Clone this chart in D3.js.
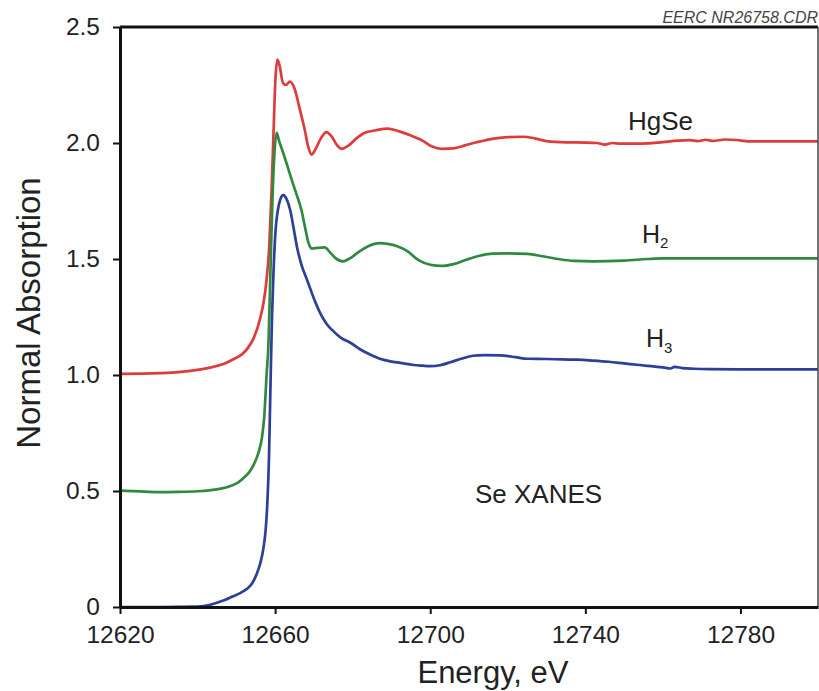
<!DOCTYPE html>
<html>
<head>
<meta charset="utf-8">
<script src="https://cdn.jsdelivr.net/npm/d3@7"></script>
<style>
  html, body { margin: 0; padding: 0; background: #fff; }
  svg { display: block; font-family: "Liberation Sans", Arial, Helvetica, sans-serif; }
</style>
</head>
<body>
<svg id="chart" width="819" height="691"></svg>
<script>
// Se K-edge XANES spectra, normalised absorption vs photon energy (eV).
// HgSe reference is offset by +1.0, H2 by +0.5, H3 unshifted.

const hgseEnergy = [12620, 12630, 12635, 12640, 12644, 12647, 12649.5, 12651.5, 12653, 12654.5,
  12656, 12657, 12657.8, 12658.5, 12659.1, 12659.6, 12660.1, 12660.6, 12661.2, 12662,
  12662.8, 12663.8, 12665, 12666.3, 12667.6, 12668.6, 12669.4, 12670.3, 12671.8, 12673.2,
  12674.5, 12676, 12677.2, 12679, 12681, 12683, 12686, 12689, 12692, 12695,
  12698, 12700.5, 12703, 12706, 12709, 12712, 12716, 12720, 12724, 12727,
  12730, 12735, 12740, 12743, 12745, 12747, 12749, 12753, 12756, 12760,
  12764, 12767, 12769, 12771, 12773, 12776, 12779, 12782, 12790, 12800];
const hgseAbs = [1.005, 1.008, 1.012, 1.022, 1.035, 1.05, 1.07, 1.09, 1.117, 1.16,
  1.235, 1.31, 1.41, 1.56, 1.80, 2.05, 2.28, 2.36, 2.33, 2.26,
  2.25, 2.265, 2.235, 2.15, 2.06, 1.98, 1.95, 1.97, 2.02, 2.047,
  2.03, 1.99, 1.975, 1.99, 2.02, 2.043, 2.055, 2.062, 2.05, 2.032,
  2.01, 1.985, 1.975, 1.977, 1.99, 2.003, 2.018, 2.025, 2.027, 2.02,
  2.008, 2.003, 2.002, 2.0, 1.993, 2.0, 1.997, 1.997, 1.998, 2.004,
  2.01, 2.012, 2.008, 2.014, 2.009, 2.015, 2.013, 2.007, 2.007, 2.007];

const h2Energy = [12620, 12625, 12630, 12635, 12640, 12643, 12646, 12648.5, 12650.5, 12652,
  12653.5, 12654.8, 12655.8, 12656.6, 12657.2, 12657.8, 12658.3, 12658.8, 12659.3, 12659.8,
  12660.4, 12661, 12662, 12663, 12664.3, 12665.5, 12666.8, 12667.8, 12668.6, 12669.5,
  12671, 12672.8, 12674.2, 12675.5, 12677.5, 12679.5, 12681.5, 12684, 12687, 12689,
  12691.5, 12694, 12697, 12700, 12703, 12706, 12709.5, 12713, 12716, 12720,
  12725, 12729, 12733, 12737, 12742, 12750, 12756, 12760, 12770, 12800];
const h2Abs = [0.502, 0.498, 0.495, 0.496, 0.499, 0.503, 0.51, 0.522, 0.537, 0.558,
  0.585, 0.625, 0.67, 0.73, 0.82, 1.0, 1.14, 1.45, 1.75, 1.95,
  2.044, 2.01, 1.962, 1.91, 1.84, 1.78, 1.71, 1.63, 1.57, 1.545,
  1.548, 1.55, 1.528, 1.505, 1.49, 1.505, 1.53, 1.555, 1.568, 1.565,
  1.555, 1.535, 1.495, 1.475, 1.47, 1.478, 1.498, 1.515, 1.523, 1.524,
  1.522, 1.512, 1.5, 1.492, 1.49, 1.493, 1.5, 1.503, 1.503, 1.503];

const h3Energy = [12620, 12630, 12640, 12643, 12645, 12647, 12649, 12651, 12652.7, 12654,
  12655.2, 12656.2, 12657, 12657.6, 12658, 12658.4, 12658.8, 12659.2, 12659.6, 12660.1,
  12660.7, 12661.4, 12662.1, 12662.9, 12663.9, 12664.8, 12665.6, 12666.8, 12668.2, 12670,
  12671.6, 12673.3, 12675, 12677, 12679.4, 12682, 12684.5, 12687, 12689.7, 12692.3,
  12695.7, 12698, 12700, 12702.5, 12705.2, 12708, 12711, 12714, 12718, 12722,
  12725, 12730, 12734, 12738, 12742, 12746, 12750, 12754, 12757, 12760,
  12762, 12763, 12765, 12768, 12772, 12780, 12800];
const h3Abs = [0.0, 0.0, 0.002, 0.008, 0.018, 0.03, 0.045, 0.06, 0.078, 0.1,
  0.14, 0.19, 0.255, 0.34, 0.45, 0.63, 0.95, 1.25, 1.45, 1.62,
  1.71, 1.76, 1.775, 1.76, 1.71, 1.63, 1.555, 1.475, 1.412, 1.33,
  1.268, 1.22, 1.189, 1.16, 1.139, 1.11, 1.088, 1.07, 1.059, 1.052,
  1.043, 1.04, 1.038, 1.042, 1.055, 1.07, 1.083, 1.086, 1.085, 1.077,
  1.07, 1.069, 1.067, 1.066, 1.062, 1.057, 1.05, 1.043, 1.038, 1.033,
  1.028, 1.035, 1.03, 1.027, 1.025, 1.024, 1.024];

const xTicks = [12620, 12660, 12700, 12740, 12780];
const yTicks = [0, 0.5, 1.0, 1.5, 2.0, 2.5];
const yTickLabels = ["0", "0.5", "1.0", "1.5", "2.0", "2.5"];

const series = [
  { name: "HgSe", energy: hgseEnergy, abs: hgseAbs, color: "#de3b3b" },
  { name: "H2", energy: h2Energy, abs: h2Abs, color: "#2f8a3f" },
  { name: "H3", energy: h3Energy, abs: h3Abs, color: "#2d3f98" }
];

const svg = d3.select("#chart");
const plotLeft = 120, plotRight = 818, plotTop = 27, plotBottom = 607;

const x = d3.scaleLinear().domain([12620, 12800]).range([plotLeft, plotRight]);
const y = d3.scaleLinear().domain([0, 2.5]).range([plotBottom, plotTop]);

// spectra
const line = d3.line()
  .x(d => x(d[0]))
  .y(d => y(d[1]))
  .curve(d3.curveMonotoneX);

series.forEach(s => {
  const pts = s.energy.map((e, i) => [e, s.abs[i]]);
  svg.append("path")
    .attr("d", line(pts))
    .attr("fill", "none")
    .attr("stroke", s.color)
    .attr("stroke-width", 2.7)
    .attr("stroke-linejoin", "round");
});

// frame: heavy top edge, thin right edge
svg.append("line")
  .attr("x1", plotLeft).attr("x2", plotRight)
  .attr("y1", plotTop).attr("y2", plotTop)
  .attr("stroke", "#111").attr("stroke-width", 3);
svg.append("line")
  .attr("x1", plotRight).attr("x2", plotRight)
  .attr("y1", plotTop).attr("y2", plotBottom)
  .attr("stroke", "#444").attr("stroke-width", 1.5);

// axes
const xAxis = d3.axisBottom(x)
  .tickValues(xTicks)
  .tickFormat(d3.format("d"))
  .tickSize(7)
  .tickSizeOuter(0)
  .tickPadding(12);

const yAxis = d3.axisLeft(y)
  .tickValues(yTicks)
  .tickFormat((d, i) => yTickLabels[i])
  .tickSize(7)
  .tickSizeOuter(0)
  .tickPadding(13);

const gx = svg.append("g").attr("transform", `translate(0,${plotBottom})`).call(xAxis);
const gy = svg.append("g").attr("transform", `translate(${plotLeft},0)`).call(yAxis);

[gx, gy].forEach(g => {
  g.select(".domain").attr("stroke", "#111").attr("stroke-width", 3);
  g.selectAll(".tick line").attr("stroke", "#111").attr("stroke-width", 2);
  g.selectAll(".tick text")
    .attr("fill", "#222")
    .style("font-size", "24.5px")
    .style("font-family", "\"Liberation Sans\", Arial, sans-serif");
});

// axis titles
svg.append("text")
  .attr("x", 493).attr("y", 683)
  .attr("text-anchor", "middle")
  .attr("fill", "#222")
  .style("font-size", "31px")
  .text("Energy, eV");

svg.append("text")
  .attr("transform", "translate(40,313) rotate(-90)")
  .attr("text-anchor", "middle")
  .attr("fill", "#222")
  .style("font-size", "33px")
  .text("Normal Absorption");

// series labels
svg.append("text")
  .attr("x", 628).attr("y", 130)
  .attr("fill", "#222")
  .style("font-size", "26px")
  .text("HgSe");

const h2Label = svg.append("text")
  .attr("x", 642).attr("y", 243)
  .attr("fill", "#222")
  .style("font-size", "25px");
h2Label.append("tspan").text("H");
h2Label.append("tspan").attr("dy", 5).style("font-size", "15px").text("2");

const h3Label = svg.append("text")
  .attr("x", 646).attr("y", 347)
  .attr("fill", "#222")
  .style("font-size", "25px");
h3Label.append("tspan").text("H");
h3Label.append("tspan").attr("dy", 6).style("font-size", "15px").text("3");

svg.append("text")
  .attr("x", 475).attr("y", 503)
  .attr("fill", "#222")
  .style("font-size", "26px")
  .text("Se XANES");

// drawing file tag
svg.append("text")
  .attr("x", 818).attr("y", 23)
  .attr("text-anchor", "end")
  .attr("fill", "#444")
  .style("font-size", "16px")
  .style("font-style", "italic")
  .text("EERC NR26758.CDR");
</script>
</body>
</html>
